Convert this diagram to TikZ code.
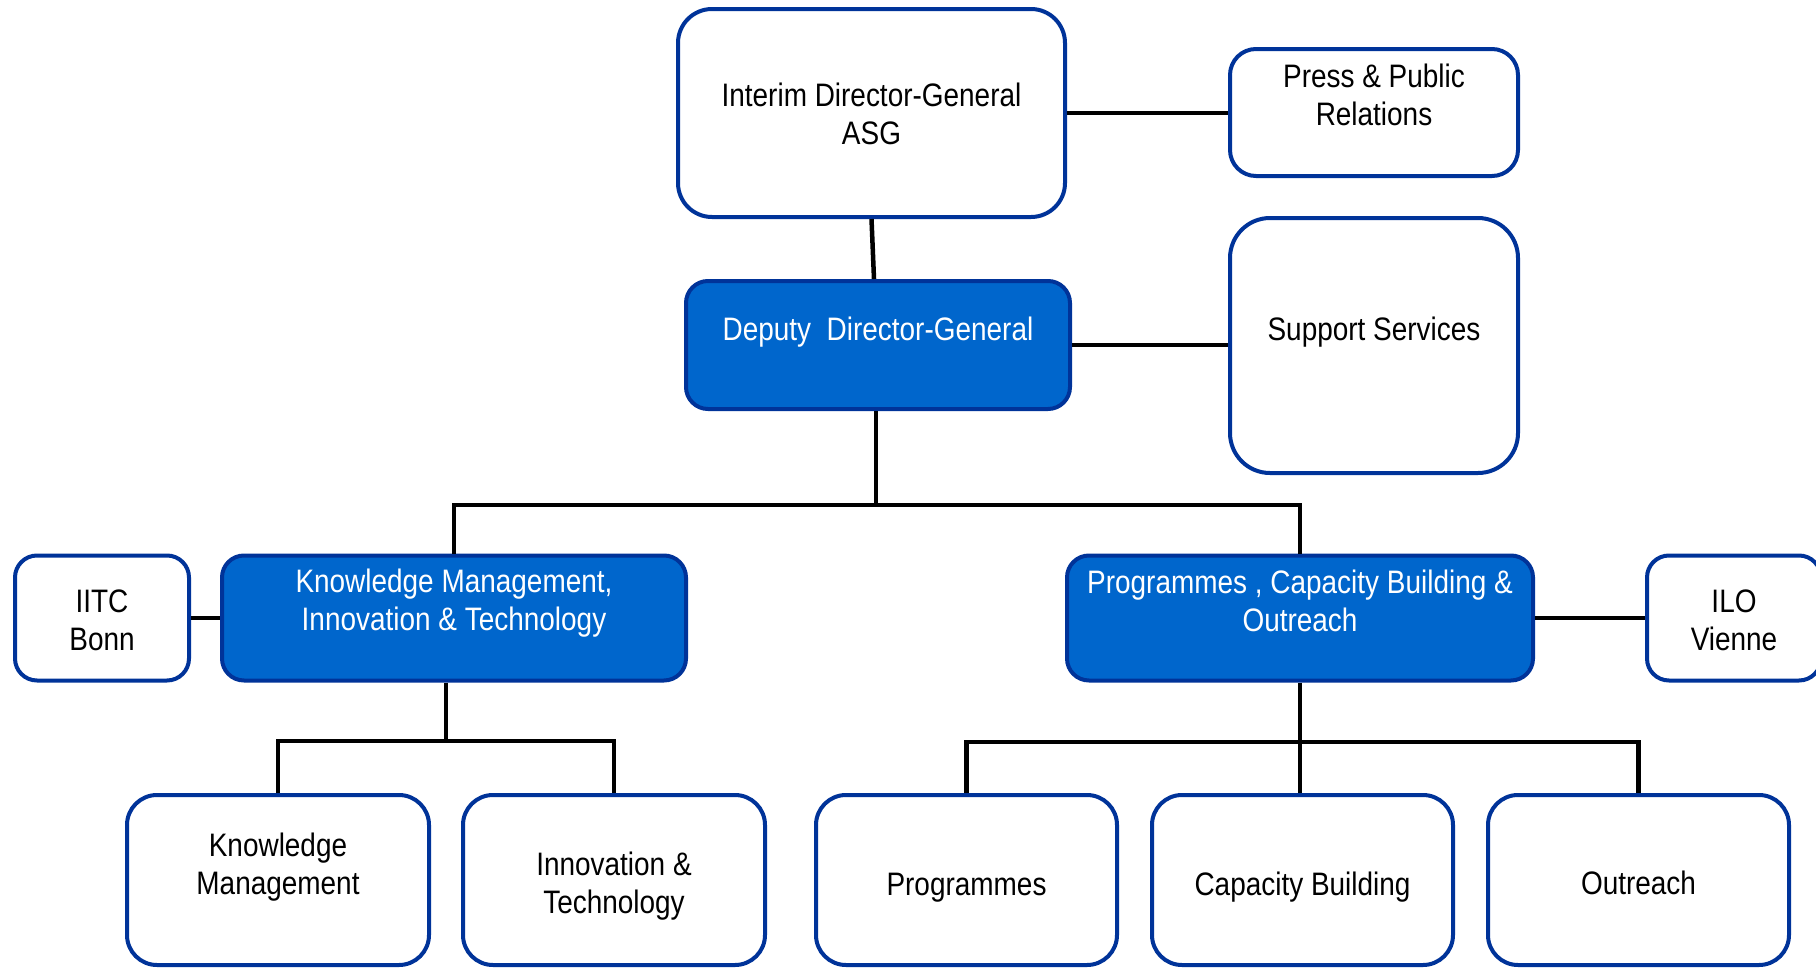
\documentclass[tikz,border=0pt]{standalone}
\usepackage{fontspec}
\setmainfont{Liberation Sans}[FakeStretch=0.86]
\definecolor{bordercol}{HTML}{003399}
\definecolor{fillcol}{HTML}{0066CC}
\begin{document}
\begin{tikzpicture}[x=1pt,y=-1pt,
  box/.style={draw=bordercol, line width=4pt, fill=white, rectangle, rounded corners=#1, inner sep=0pt},
  box/.default=28pt,
  bluebox/.style={box=#1, fill=fillcol},
  bluebox/.default=22pt,
  txt/.style={align=center, font=\fontsize{32.5}{38}\selectfont, text=black, inner sep=0pt},
  wtxt/.style={txt, text=white},
  conn/.style={draw=black, line width=4.5pt, line join=miter}]
\clip (0,0) rectangle (1816,969);
\fill[white] (0,0) rectangle (1816,969);

% top level
\node[box=34pt, minimum width=387pt, minimum height=208pt] (idg) at (871.5,113) {};
\node[txt] at ([yshift=-1pt]idg.center) {Interim Director-General\\ASG};
\node[box=26pt, minimum width=288pt, minimum height=127pt] (press) at (1374,112.5) {};
\node[txt] at ([yshift=18pt]press.center) {Press \& Public\\Relations};
\node[bluebox, minimum width=384pt, minimum height=128pt] (ddg) at (878,345) {};
\node[wtxt] at ([yshift=13pt]ddg.center) {Deputy\ \ Director-General};
\node[box=40pt, minimum width=288pt, minimum height=255pt] (supp) at (1374,345.5) {};
\node[txt] at ([yshift=13.5pt]supp.center) {Support Services};

% middle level
\node[box=22pt, minimum width=174pt, minimum height=125pt] (iitc) at (102,618) {};
\node[txt] at ([yshift=-2.5pt]iitc.center) {IITC\\Bonn};
\node[bluebox, minimum width=464pt, minimum height=125pt] (km) at (454,618) {};
\node[wtxt] at ([yshift=14.5pt]km.center) {Knowledge Management,\\Innovation \& Technology};
\node[bluebox, minimum width=466pt, minimum height=125pt] (pco) at (1300,618) {};
\node[wtxt] at ([yshift=17.5pt]pco.center) {Programmes , Capacity Building \&\\Outreach};
\node[box=22pt, minimum width=174pt, minimum height=125pt] (ilo) at (1734,618) {};
\node[txt] at ([yshift=-2.5pt]ilo.center) {ILO\\Vienne};

% bottom level
\node[box=30pt, minimum width=302pt, minimum height=170pt] (km2) at (278,880) {};
\node[txt] at ([yshift=13pt]km2.center) {Knowledge\\Management};
\node[box=30pt, minimum width=302pt, minimum height=170pt] (inn) at (614,880) {};
\node[txt] at ([yshift=-6pt]inn.center) {Innovation \&\\Technology};
\node[box=30pt, minimum width=301pt, minimum height=170pt] (prog) at (966.5,880) {};
\node[txt] at ([yshift=-8pt]prog.center) {Programmes};
\node[box=30pt, minimum width=301pt, minimum height=170pt] (cap) at (1302.5,880) {};
\node[txt] at ([yshift=-7pt]cap.center) {Capacity Building};
\node[box=30pt, minimum width=301pt, minimum height=170pt] (out) at (1638.5,880) {};
\node[txt] at ([yshift=-3pt]out.center) {Outreach};

% connectors
\coordinate (bus) at (876,505);
\coordinate (busL) at (0,741);
\coordinate (busR) at (0,742);
\draw[conn] (idg.south) -- ([xshift=-4pt]ddg.north);
\draw[conn] (idg.east) -- (idg.east -| press.west);
\draw[conn] (ddg.east) -- (ddg.east -| supp.west);
\draw[conn] ([xshift=-2pt]ddg.south) -- ([xshift=-2pt]ddg.south |- bus);
\draw[conn] (km.north) -- (km.north |- bus) -- (pco.north |- bus) -- (pco.north);
\draw[conn] (iitc.east) -- (km.west);
\draw[conn] (pco.east) -- (ilo.west);
\draw[conn] ([xshift=-8pt]km.south) -- ([xshift=-8pt]km.south |- busL);
\draw[conn] (km2.north) -- (km2.north |- busL) -- (inn.north |- busL) -- (inn.north);
\draw[conn] (pco.south) -- (pco.south |- cap.north);
\draw[conn] (prog.north) -- (prog.north |- busR) -- (out.north |- busR) -- (out.north);
\end{tikzpicture}
\end{document}
